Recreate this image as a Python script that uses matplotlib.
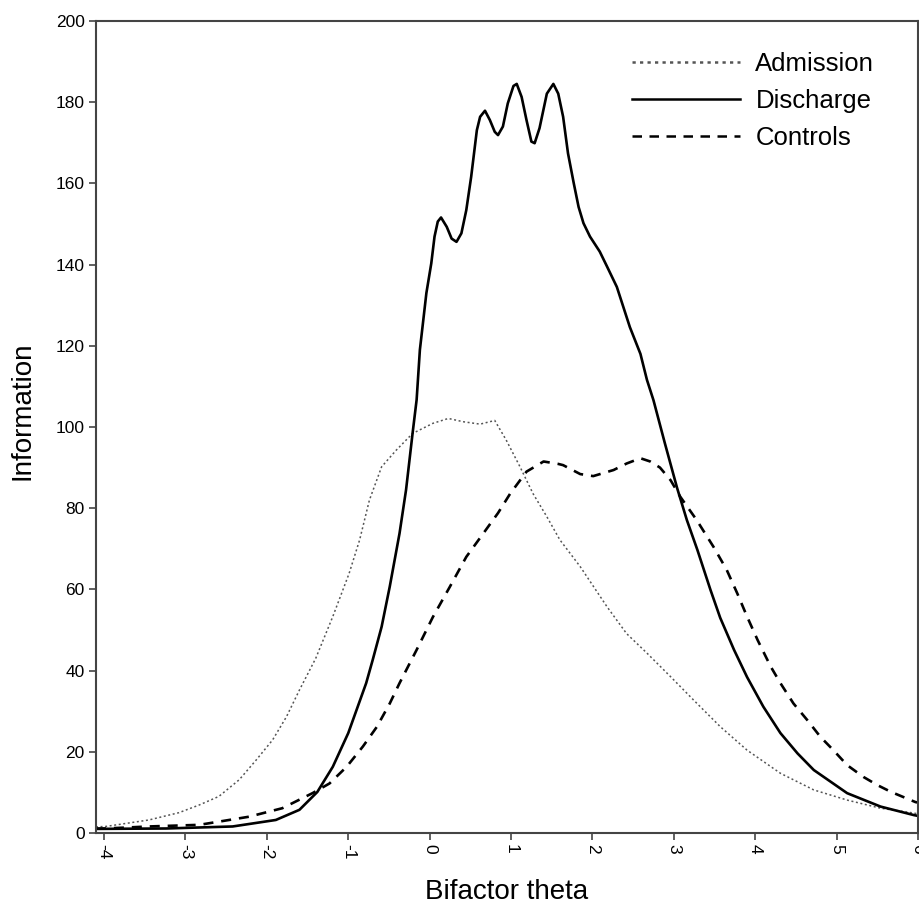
import matplotlib
matplotlib.use('Agg')
import matplotlib.pyplot as plt

plt.rcParams['font.family'] = ['Liberation Sans', 'DejaVu Sans']

# Admission (dotted, grey)
adm_x = [-4.1, -3.98, -3.45, -3.08, -2.83, -2.59, -2.34, -2.13, -1.93, -1.76, -1.60, -1.40,
         -1.19, -0.99, -0.86, -0.74, -0.59, -0.41, -0.21, 0.04, 0.23, 0.41, 0.62, 0.80,
         0.94, 1.11, 1.27, 1.44, 1.60, 1.85, 2.18, 2.42, 2.67, 2.96, 3.24, 3.57, 3.90,
         4.31, 4.72, 5.13, 5.54, 5.95, 6.0]
adm_y = [1.5, 1.6, 3.2, 5.0, 6.9, 9.0, 13.1, 18.0, 22.9, 28.6, 35.2, 43.0,
         53.3, 63.9, 72.2, 82.0, 90.2, 94.3, 98.4, 100.9, 102.1, 101.3, 100.7, 101.6,
         96.8, 90.2, 83.6, 77.9, 72.2, 65.6, 55.7, 49.1, 44.3, 38.5, 32.8, 26.2, 20.4,
         14.7, 10.6, 8.1, 6.1, 4.9, 4.7]

# Discharge (solid)
dis_x = [-4.1, -3.24, -2.42, -1.89, -1.60, -1.38, -1.19, -1.00, -0.78, -0.70, -0.59, -0.49,
         -0.37, -0.29, -0.21, -0.16, -0.12, -0.04, 0.02, 0.06, 0.10, 0.14, 0.21, 0.27,
         0.33, 0.39, 0.45, 0.51, 0.58, 0.62, 0.68, 0.74, 0.80, 0.84, 0.90, 0.96, 1.03,
         1.07, 1.13, 1.19, 1.25, 1.29, 1.35, 1.44, 1.52, 1.58, 1.64, 1.70, 1.77, 1.83,
         1.89, 1.97, 2.09, 2.18, 2.30, 2.46, 2.59, 2.67, 2.75, 2.89, 3.04, 3.16, 3.29,
         3.45, 3.57, 3.74, 3.90, 4.10, 4.31, 4.52, 4.72, 5.13, 5.54, 5.95, 6.0]
dis_y = [1.0, 1.1, 1.6, 3.2, 5.7, 10.1, 16.3, 24.6, 36.9, 42.6, 50.8, 60.7,
         73.8, 84.5, 98.4, 106.7, 119.0, 133.0, 140.3, 146.9, 150.6, 151.6, 149.3, 146.4,
         145.6, 147.7, 153.4, 161.6, 173.1, 176.4, 177.9, 175.6, 172.7, 171.9, 174.0, 179.7, 184.0,
         184.5, 181.3, 175.6, 170.3, 169.9, 173.6, 182.1, 184.5, 182.1, 176.4, 167.4, 160.1, 154.2,
         150.2, 146.9, 143.2, 139.5, 134.5, 124.6, 118.0, 111.6, 106.6, 96.0, 85.0, 77.1, 69.7,
         59.9, 53.0, 45.1, 38.4, 31.1, 24.6, 19.6, 15.5, 9.8, 6.5, 4.4, 4.2]

# Controls (dashed)
con_x = [-4.1, -3.98, -3.45, -2.83, -2.22, -1.81, -1.44, -1.23, -1.02, -0.82, -0.65, -0.49,
         -0.37, -0.16, 0.04, 0.25, 0.45, 0.66, 0.84, 0.99, 1.19, 1.40, 1.58, 1.64, 1.85,
         2.01, 2.26, 2.42, 2.59, 2.71, 2.83, 2.96, 3.08, 3.28, 3.49, 3.65, 3.78, 3.90,
         4.03, 4.19, 4.31, 4.47, 4.64, 4.80, 4.96, 5.13, 5.33, 5.50, 5.67, 5.97, 6.0]
con_y = [1.1, 1.1, 1.6, 2.0, 4.0, 6.1, 9.8, 12.2, 16.3, 21.3, 26.1, 31.9,
         36.9, 45.1, 53.2, 60.7, 68.0, 73.8, 78.8, 83.6, 89.0, 91.5, 90.9, 90.6, 88.4,
         87.9, 89.4, 91.0, 92.3, 91.5, 90.0, 86.9, 82.8, 77.1, 70.4, 64.8, 59.0, 53.3,
         47.5, 41.0, 36.9, 31.9, 27.8, 23.7, 20.4, 16.7, 13.8, 11.8, 10.1, 7.6, 7.5]

x_ticks = [-4, -3, -2, -1, 0, 1, 2, 3, 4, 5, 6]
y_ticks = [0, 20, 40, 60, 80, 100, 120, 140, 160, 180, 200]

fig = plt.figure(figsize=(9.2, 9.05), dpi=100)
ax = fig.add_axes([0.1043, 0.0796, 0.8935, 0.8972])

ax.plot(adm_x, adm_y, color='#555555', linestyle=(0, (1.3, 1.7)), linewidth=1.1, label='Admission')
ax.plot(dis_x, dis_y, color='black', linestyle='-', linewidth=1.9, label='Discharge')
ax.plot(con_x, con_y, color='black', linestyle=(0, (3.8, 3.0)), linewidth=1.9, label='Controls')

ax.set_xlim(-4.1, 6.0)
ax.set_ylim(0, 200)
ax.set_xticks(x_ticks)
ax.set_yticks(y_ticks)
ax.set_xticklabels([str(t) for t in x_ticks], rotation=270, fontsize=12.5)
ax.set_yticklabels([str(t) for t in y_ticks], fontsize=12.5)
ax.tick_params(direction='out', length=5, width=1.2, color='#444444', pad=3)

for s in ax.spines.values():
    s.set_color('#444444')
    s.set_linewidth(1.5)

ax.set_xlabel('Bifactor theta', fontsize=20, labelpad=14)
ax.set_ylabel('Information', fontsize=20)
ax.yaxis.set_label_coords(-0.074, 0.52)

leg = ax.legend(loc='upper right', bbox_to_anchor=(0.975, 0.99), frameon=False, fontsize=18.5,
                handlelength=4.2, handletextpad=0.6, labelspacing=0.5)
for line in leg.get_lines():
    line.set_linewidth(1.8)

fig.savefig('out.png', dpi=100, facecolor='white')
